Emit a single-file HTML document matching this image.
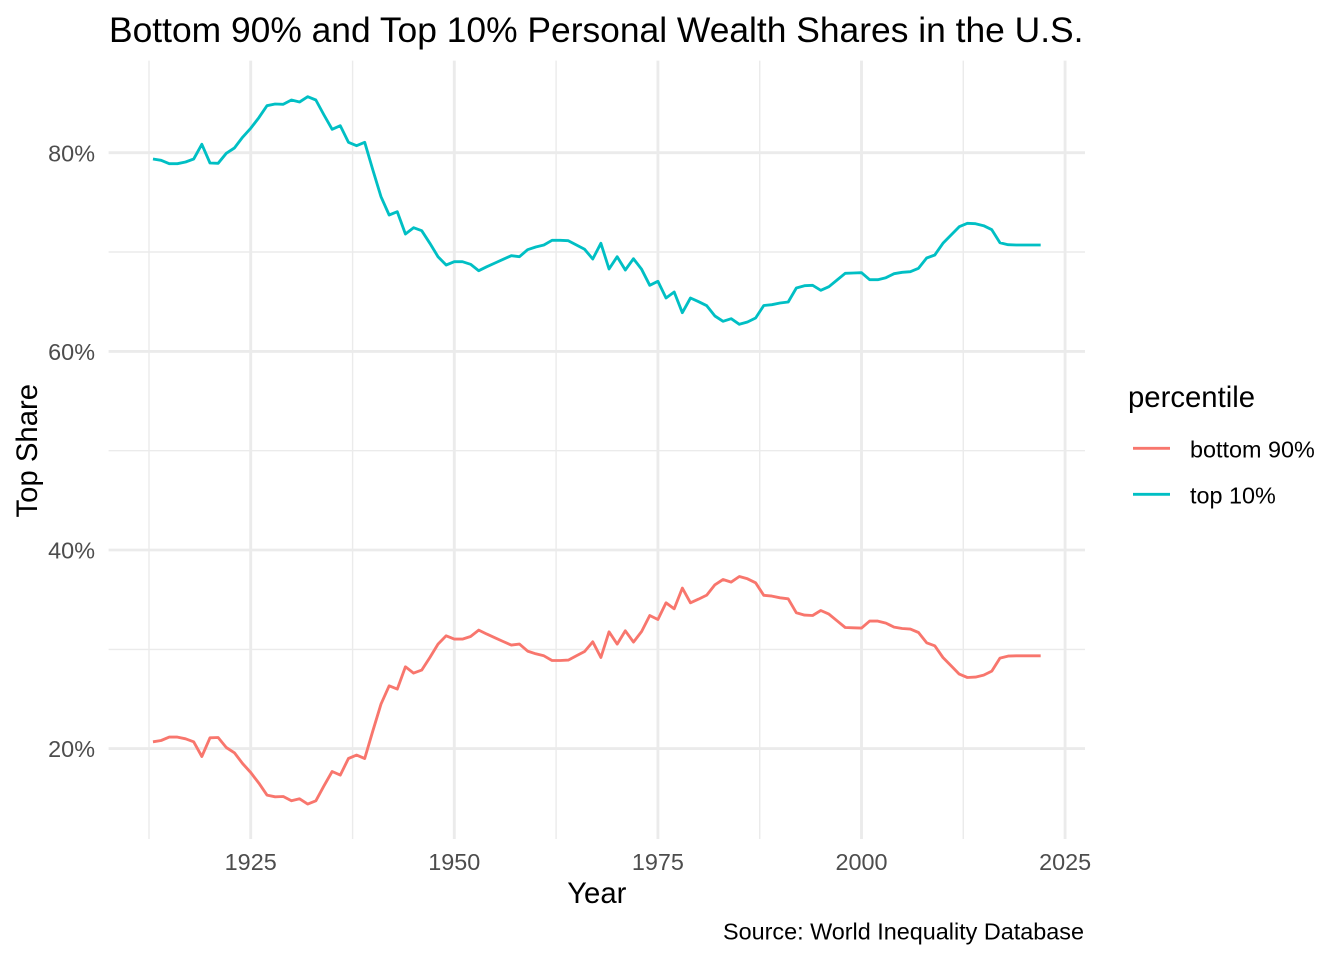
<!DOCTYPE html>
<html>
<head>
<meta charset="utf-8">
<style>
  html, body { margin: 0; padding: 0; background: #ffffff; }
  svg { display: block; }
  text { font-family: "Liberation Sans", Arial, sans-serif; }
</style>
</head>
<body>
<svg width="1344" height="960" viewBox="0 0 1344 960" xmlns="http://www.w3.org/2000/svg">
  <rect x="0" y="0" width="1344" height="960" fill="#ffffff"/>

  <!-- minor gridlines -->
  <g stroke="#EBEBEB" stroke-width="1.42" fill="none">
    <line x1="108.6" y1="649.4" x2="1085" y2="649.4"/>
    <line x1="108.6" y1="450.7" x2="1085" y2="450.7"/>
    <line x1="108.6" y1="252.0" x2="1085" y2="252.0"/>
    <line x1="149.0" y1="60.6" x2="149.0" y2="839"/>
    <line x1="352.6" y1="60.6" x2="352.6" y2="839"/>
    <line x1="556.1" y1="60.6" x2="556.1" y2="839"/>
    <line x1="759.7" y1="60.6" x2="759.7" y2="839"/>
    <line x1="963.3" y1="60.6" x2="963.3" y2="839"/>
  </g>
  <!-- major gridlines -->
  <g stroke="#EBEBEB" stroke-width="2.84" fill="none">
    <line x1="108.6" y1="748.6" x2="1085" y2="748.6"/>
    <line x1="108.6" y1="550.0" x2="1085" y2="550.0"/>
    <line x1="108.6" y1="351.4" x2="1085" y2="351.4"/>
    <line x1="108.6" y1="152.7" x2="1085" y2="152.7"/>
    <line x1="250.7" y1="60.6" x2="250.7" y2="839"/>
    <line x1="454.3" y1="60.6" x2="454.3" y2="839"/>
    <line x1="657.9" y1="60.6" x2="657.9" y2="839"/>
    <line x1="861.5" y1="60.6" x2="861.5" y2="839"/>
    <line x1="1065.1" y1="60.6" x2="1065.1" y2="839"/>
  </g>

  <!-- bottom 90% -->
  <polyline fill="none" stroke="#F8766D" stroke-width="2.85" stroke-linejoin="round" stroke-linecap="butt"
    points="152.97,741.8 161.11,740.5 169.26,737.1 177.40,737.1 185.55,738.8 193.69,741.8 201.83,756.5 209.98,737.8 218.12,737.5 226.27,747.5 234.41,752.8 242.55,763.5 250.70,772.5 258.84,783.1 266.99,795.1 275.13,796.8 283.27,796.5 291.42,800.8 299.56,798.8 307.71,804.1 315.85,800.8 323.99,785.8 332.14,771.5 340.28,775.1 348.43,758.5 356.57,755.1 364.71,758.5 372.86,730.8 381.00,704.1 389.15,685.8 397.29,689.1 405.43,666.8 413.58,673.1 421.72,670.1 429.87,657.5 438.01,644.1 446.15,635.8 454.30,639.1 462.44,639.1 470.59,636.5 478.73,630.1 486.87,634.1 495.02,637.8 503.16,641.5 511.31,645.1 519.45,644.1 527.59,651.1 535.74,653.8 543.88,655.8 552.03,660.5 560.17,660.5 568.31,660.1 576.46,655.8 584.60,651.5 592.75,641.8 600.89,657.5 609.03,631.8 617.18,644.1 625.32,630.8 633.47,642.1 641.61,631.5 649.75,615.5 657.90,619.5 666.04,602.8 674.19,608.8 682.33,588.1 690.47,602.8 698.62,599.1 706.76,595.1 714.91,584.8 723.05,579.5 731.19,582.1 739.34,576.5 747.48,578.8 755.63,582.8 763.77,595.3 771.91,596.1 780.06,597.8 788.20,598.8 796.35,612.8 804.49,615.1 812.63,615.5 820.78,610.5 828.92,614.1 837.07,620.8 845.21,627.5 853.35,627.8 861.50,628.1 869.64,621.1 877.79,621.1 885.93,623.1 894.07,627.1 902.22,628.5 910.36,629.1 918.51,632.5 926.65,642.8 934.79,645.8 942.94,657.5 951.08,665.8 959.23,674.1 967.37,677.5 975.51,677.1 983.66,675.1 991.80,671.1 999.95,658.1 1008.09,656.1 1016.23,655.8 1024.38,655.8 1032.52,655.8 1040.67,655.8"/>

  <!-- top 10% -->
  <polyline fill="none" stroke="#00BFC4" stroke-width="2.85" stroke-linejoin="round" stroke-linecap="butt"
    points="152.97,159 161.11,160.3 169.26,163.7 177.40,163.7 185.55,162 193.69,159 201.83,144.3 209.98,163 218.12,163.3 226.27,153.3 234.41,148 242.55,137.3 250.70,128.3 258.84,117.7 266.99,105.7 275.13,104 283.27,104.3 291.42,100 299.56,102 307.71,96.7 315.85,100 323.99,115 332.14,129.3 340.28,125.7 348.43,142.3 356.57,145.7 364.71,142.3 372.86,170 381.00,196.7 389.15,215 397.29,211.7 405.43,234 413.58,227.7 421.72,230.7 429.87,243.3 438.01,256.7 446.15,265 454.30,261.7 462.44,261.7 470.59,264.3 478.73,270.7 486.87,266.7 495.02,263 503.16,259.3 511.31,255.7 519.45,256.7 527.59,249.7 535.74,247 543.88,245 552.03,240.3 560.17,240.3 568.31,240.7 576.46,245 584.60,249.3 592.75,259 600.89,243.3 609.03,269 617.18,256.7 625.32,270 633.47,258.7 641.61,269.3 649.75,285.3 657.90,281.3 666.04,298 674.19,292 682.33,312.7 690.47,298 698.62,301.7 706.76,305.7 714.91,316 723.05,321.3 731.19,318.7 739.34,324.3 747.48,322 755.63,318 763.77,305.5 771.91,304.7 780.06,303 788.20,302 796.35,288 804.49,285.7 812.63,285.3 820.78,290.3 828.92,286.7 837.07,280 845.21,273.3 853.35,273 861.50,272.7 869.64,279.7 877.79,279.7 885.93,277.7 894.07,273.7 902.22,272.3 910.36,271.7 918.51,268.3 926.65,258 934.79,255 942.94,243.3 951.08,235 959.23,226.7 967.37,223.3 975.51,223.7 983.66,225.7 991.80,229.7 999.95,242.7 1008.09,244.7 1016.23,245 1024.38,245 1032.52,245 1040.67,245"/>

  <!-- y tick labels -->
  <g fill="#4D4D4D" font-size="23.4" text-anchor="end">
    <text x="95" y="757.2">20%</text>
    <text x="95" y="558.6">40%</text>
    <text x="95" y="360.0">60%</text>
    <text x="95" y="161.3">80%</text>
  </g>
  <!-- x tick labels -->
  <g fill="#4D4D4D" font-size="23.4" text-anchor="middle">
    <text x="250.7" y="870">1925</text>
    <text x="454.3" y="870">1950</text>
    <text x="657.9" y="870">1975</text>
    <text x="861.5" y="870">2000</text>
    <text x="1065.1" y="870">2025</text>
  </g>

  <!-- axis titles -->
  <text x="596.8" y="903" font-size="29.3" fill="#000000" text-anchor="middle">Year</text>
  <text transform="translate(37,450.7) rotate(-90)" x="0" y="0" font-size="29.3" fill="#000000" text-anchor="middle">Top Share</text>

  <!-- title -->
  <text x="109" y="42" font-size="35.4" fill="#000000">Bottom 90% and Top 10% Personal Wealth Shares in the U.S.</text>

  <!-- caption -->
  <text x="1084" y="939.5" font-size="23.4" fill="#000000" text-anchor="end">Source: World Inequality Database</text>

  <!-- legend -->
  <text x="1128" y="407" font-size="29.3" fill="#000000">percentile</text>
  <line x1="1133" y1="448.3" x2="1170" y2="448.3" stroke="#F8766D" stroke-width="2.85"/>
  <line x1="1133" y1="494.3" x2="1170" y2="494.3" stroke="#00BFC4" stroke-width="2.85"/>
  <text x="1190" y="457.5" font-size="23.4" fill="#000000">bottom 90%</text>
  <text x="1190" y="503.5" font-size="23.4" fill="#000000">top 10%</text>
</svg>
</body>
</html>
